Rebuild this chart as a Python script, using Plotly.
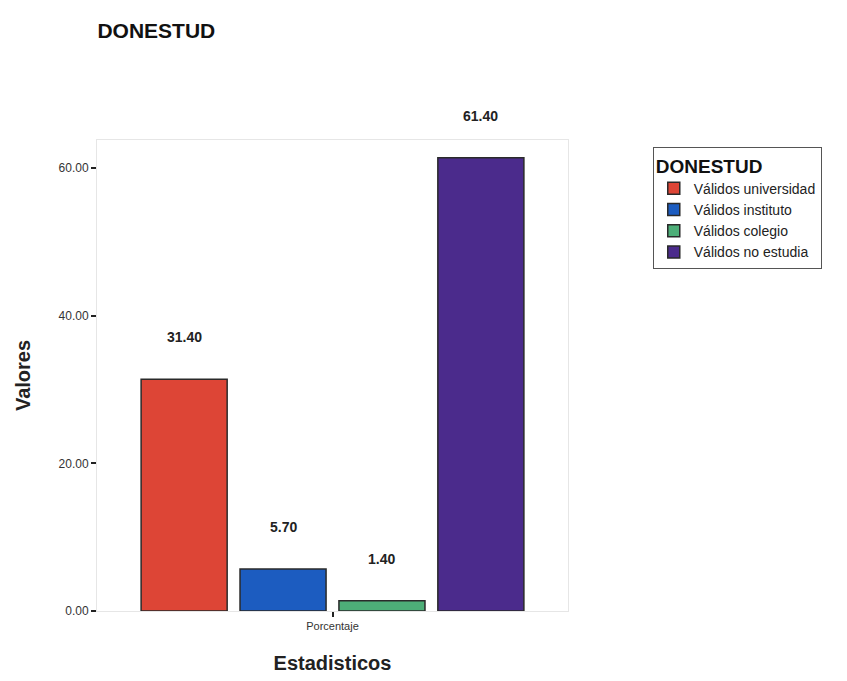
import plotly.graph_objects as go

# Data
categoria = ["Porcentaje"]
series = ["Válidos universidad", "Válidos instituto", "Válidos colegio", "Válidos no estudia"]
valores = [31.40, 5.70, 1.40, 61.40]
colores = ["#dd4536", "#1c5cc0", "#4dae78", "#4b2b8c"]
y_ticks = [0, 20, 40, 60]
y_tick_labels = ["0.00", "20.00", "40.00", "60.00"]

FONT = "Arial, Liberation Sans, sans-serif"
BARGAP = 0.16
GROUPGAP = 0.13

fig = go.Figure()
for nombre, v, c in zip(series, valores, colores):
    fig.add_trace(go.Bar(
        x=categoria, y=[v], name=nombre,
        marker=dict(color=c, line=dict(color="#2a2a2a", width=1.5)),
        hoverinfo="name+y",
    ))

# Value labels above each bar (grouped positions on the category axis)
n = len(valores)
slot = (1 - BARGAP) / n
for i, v in enumerate(valores):
    fig.add_annotation(
        x=(i - (n - 1) / 2) * slot, y=v, xref="x", yref="y",
        text=f"<b>{v:.2f}</b>", showarrow=False, yshift=42,
        font=dict(family=FONT, size=14, color="#222"),
    )

fig.update_layout(
    width=847, height=681,
    margin=dict(l=97, r=279, t=140, b=70),
    paper_bgcolor="white", plot_bgcolor="white",
    barmode="group", bargap=BARGAP, bargroupgap=GROUPGAP,
    font=dict(family=FONT, color="#222"),
    title=dict(text="<b>DONESTUD</b>", x=0.115, xanchor="left", y=0.955, yanchor="middle",
               font=dict(family=FONT, size=21, color="#111")),
    showlegend=True,
    legend=dict(
        title=dict(text="<b>DONESTUD</b>", font=dict(family=FONT, size=19, color="#111")),
        x=1.18, xanchor="left", y=0.985, yanchor="top",
        bordercolor="#555", borderwidth=1, bgcolor="white",
        font=dict(family=FONT, size=14, color="#222"),
        itemwidth=30,
        traceorder="normal",
    ),
    xaxis=dict(
        title=dict(text="<b>Estadisticos</b>", font=dict(family=FONT, size=20, color="#222"), standoff=24),
        tickfont=dict(family=FONT, size=11, color="#333"),
        ticks="outside", ticklen=5, tickcolor="#222", tickwidth=2,
        showline=True, linecolor="#e6e6e6", mirror=True,
        range=[-0.5, 0.5],
    ),
    yaxis=dict(
        title=dict(text="<b>Valores</b>", font=dict(family=FONT, size=20, color="#222"), standoff=22),
        tickvals=y_ticks, ticktext=y_tick_labels,
        tickfont=dict(family=FONT, size=12, color="#333"),
        ticks="outside", ticklen=5, tickcolor="#222", tickwidth=2,
        showline=True, linecolor="#e6e6e6", mirror=True,
        showgrid=False, zeroline=False,
        range=[0, 63.8],
    ),
)

fig.write_html("out.html")
